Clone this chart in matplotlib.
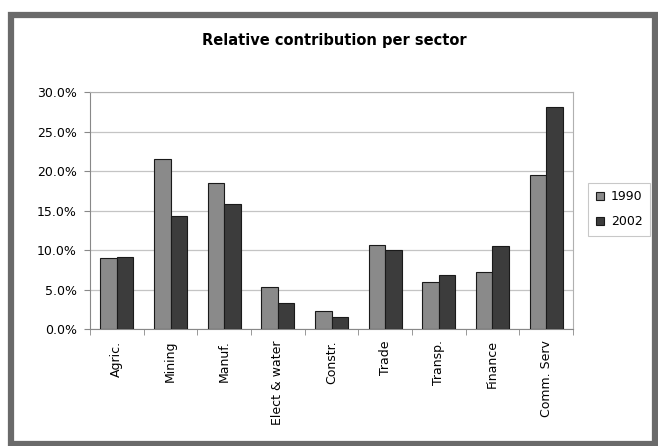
import numpy as np
import matplotlib
matplotlib.use('Agg')
import matplotlib.pyplot as plt
from matplotlib.patches import Rectangle
from matplotlib.ticker import FuncFormatter

plt.rcParams['font.family'] = ['DejaVu Sans']

sectors = ['Agric.', 'Mining', 'Manuf.', 'Elect & water', 'Constr.',
           'Trade', 'Transp.', 'Finance', 'Comm. Serv']
share_1990 = [9.0, 21.6, 18.5, 5.35, 2.3, 10.7, 6.0, 7.2, 19.5]
share_2002 = [9.1, 14.3, 15.9, 3.3, 1.55, 10.1, 6.9, 10.5, 28.2]
years = ['1990', '2002']

W, H = 658, 446
fig = plt.figure(figsize=(W / 100, H / 100), dpi=100)
fig.patch.set_facecolor('white')

# grey outer frame of the chart object
fig.patches.append(Rectangle((11 / W, 2 / H), 644 / W, 429.5 / H, transform=fig.transFigure,
                             fill=False, edgecolor='#6a6a6a', linewidth=4.5))

ax = fig.add_axes([90 / W, 1 - 329.3 / H, 483 / W, 237 / H])
x = np.arange(len(sectors))
w = 0.31
ax.bar(x - w / 2, share_1990, w, color='#8a8a8a', edgecolor='#1a1a1a', linewidth=0.8,
       label=years[0], zorder=3)
ax.bar(x + w / 2, share_2002, w, color='#3c3c3c', edgecolor='#1a1a1a', linewidth=0.8,
       label=years[1], zorder=3)

ax.set_xlim(-0.5, len(sectors) - 0.5)
ax.set_ylim(0, 30)
ax.set_yticks(np.arange(0, 31, 5))
ax.yaxis.set_major_formatter(FuncFormatter(lambda v, p: '%.1f%%' % v))
ax.grid(axis='y', color='#c4c4c4', linewidth=0.9, zorder=0)

ax.set_xticks(x)
ax.set_xticklabels(sectors, rotation=90, fontsize=9)
ax.set_xticks(np.arange(-0.5, len(sectors), 1), minor=True)
ax.tick_params(axis='x', which='major', length=0, pad=8)
ax.tick_params(axis='x', which='minor', length=4, color='#888888')
ax.tick_params(axis='y', length=4, color='#888888', labelsize=9, pad=5.5)
for s in ax.spines.values():
    s.set_color('#b0b0b0')
    s.set_linewidth(0.8)
ax.spines['left'].set_color('#888888')
ax.spines['bottom'].set_color('#888888')

leg = ax.legend(loc='upper left', bbox_to_anchor=(588 / W, 1 - 183 / H), bbox_transform=fig.transFigure,
                fontsize=9, frameon=True, fancybox=False, edgecolor='#bbbbbb',
                handlelength=0.65, handleheight=0.65, handletextpad=0.6, borderpad=0.6,
                labelspacing=0.95, borderaxespad=0)
leg.get_frame().set_linewidth(0.8)

fig.text(334 / W, 1 - 40 / H, 'Relative contribution per sector', ha='center', va='center',
         fontsize=10.5, fontweight='bold')

fig.savefig('out.png', dpi=100)
